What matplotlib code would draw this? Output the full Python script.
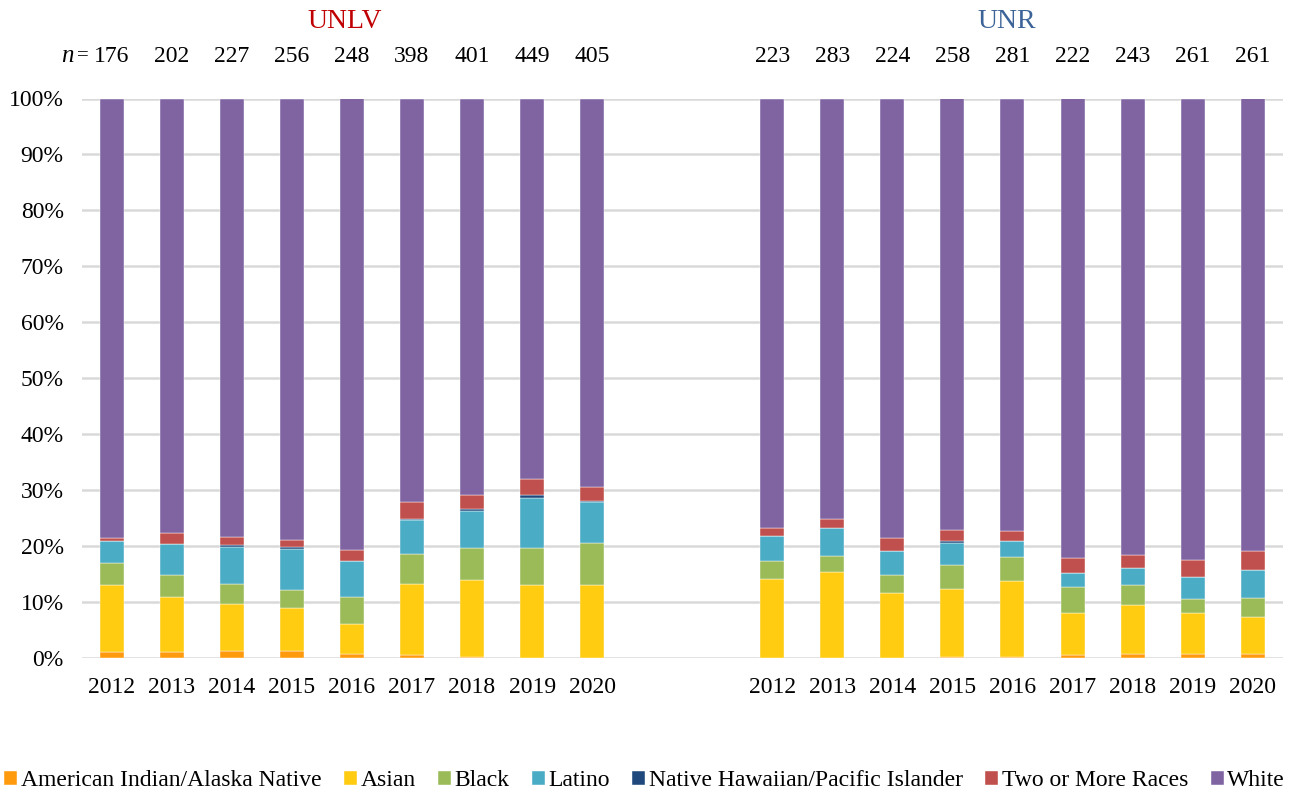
import matplotlib
matplotlib.use("Agg")
import matplotlib.pyplot as plt
import numpy as np

years = ["2012", "2013", "2014", "2015", "2016", "2017", "2018", "2019", "2020"]
groups = ["UNLV", "UNR"]
n_unlv = [176, 202, 227, 256, 248, 398, 401, 449, 405]
n_unr = [223, 283, 224, 258, 281, 222, 243, 261, 261]

categories = ["American Indian/Alaska Native", "Asian", "Black", "Latino",
              "Native Hawaiian/Pacific Islander", "Two or More Races", "White"]

# percentages (White = remainder to 100)
unlv_aian = [1.1, 1.0, 1.3, 1.2, 0.8, 0.5, 0.25, 0.0, 0.0]
unlv_asian = [11.9, 9.9, 8.4, 7.8, 5.2, 12.8, 13.7, 13.0, 13.1]
unlv_black = [4.0, 4.0, 3.5, 3.1, 4.9, 5.3, 5.7, 6.7, 7.4]
unlv_latino = [3.9, 5.4, 6.6, 7.4, 6.4, 6.0, 6.7, 8.9, 7.4]
unlv_nhpi = [0.0, 0.0, 0.46, 0.4, 0.0, 0.3, 0.3, 0.5, 0.25]
unlv_two = [0.6, 2.0, 1.3, 1.2, 2.0, 3.0, 2.5, 2.9, 2.45]

unr_aian = [0.0, 0.0, 0.0, 0.15, 0.15, 0.45, 0.8, 0.8, 0.8]
unr_asian = [14.2, 15.4, 11.55, 12.2, 13.6, 7.6, 8.6, 7.2, 6.45]
unr_black = [3.2, 2.9, 3.2, 4.3, 4.3, 4.6, 3.6, 2.6, 3.4]
unr_latino = [4.4, 5.0, 4.35, 3.9, 2.85, 2.55, 3.0, 3.8, 5.0]
unr_nhpi = [0.0, 0.0, 0.0, 0.4, 0.0, 0.0, 0.0, 0.0, 0.0]
unr_two = [1.4, 1.6, 2.3, 1.85, 1.8, 2.75, 2.4, 3.15, 3.45]

colors = ["#FF9A0E", "#FFCC11", "#9BBB59", "#4BACC6", "#1F497D", "#C0504D", "#8064A2"]

unlv = [unlv_aian, unlv_asian, unlv_black, unlv_latino, unlv_nhpi, unlv_two]
unr = [unr_aian, unr_asian, unr_black, unr_latino, unr_nhpi, unr_two]
unlv.append(list(100 - np.sum(unlv, axis=0)))
unr.append(list(100 - np.sum(unr, axis=0)))

plt.rcParams['font.family'] = ['Liberation Serif', 'DejaVu Serif']

fig = plt.figure(figsize=(12.89, 7.93), dpi=100)
ax = fig.add_axes([81.7 / 1289, 135 / 793, 1201 / 1289, (658 - 98.5) / 793])

x_unlv = np.arange(9)
x_unr = np.arange(9) + 11
width = 0.4

for xs, data, lab in ((x_unlv, unlv, True), (x_unr, unr, False)):
    bottom = np.zeros(9)
    for i, vals in enumerate(data):
        vals = np.array(vals, dtype=float)
        ax.bar(xs, vals, width, bottom=bottom, color=colors[i],
               label=categories[i] if lab else None,
               edgecolor="white", linewidth=0.3, zorder=3)
        bottom += vals

ax.set_xlim(-0.5, 19.5)
ax.set_ylim(0, 100)
ax.set_yticks(np.arange(0, 101, 10))
ax.set_yticklabels([f"{v}%" for v in range(0, 101, 10)])
ax.set_xticks(list(x_unlv) + list(x_unr))
ax.set_xticklabels(years + years)
ax.tick_params(axis="both", length=0, labelsize=17)
ax.tick_params(axis="y", pad=13)
ax.tick_params(axis="x", pad=14)
ax.yaxis.grid(True, color="#D9D9D9", linewidth=1.8, zorder=0)
for s in ax.spines.values():
    s.set_visible(False)

# n labels
ny = (658 - 56) / (658 - 98.5) * 100
for xi, n in zip(list(x_unlv) + list(x_unr), n_unlv + n_unr):
    ax.text(xi, ny, str(n), ha="center", va="center", fontsize=17, clip_on=False)
ax.text(x_unlv[0] - 0.38, ny, "=", ha="right", va="center", fontsize=15, clip_on=False)
ax.text(x_unlv[0] - 0.64, ny, "n", ha="right", va="center", fontsize=18,
        style="italic", clip_on=False)

ty = (658 - 22) / (658 - 98.5) * 100
ax.text(3.88, ty, groups[0], ha="center", va="center", fontsize=20,
        color="#C00000", clip_on=False)
ax.text(14.9, ty, groups[1], ha="center", va="center", fontsize=20,
        color="#3C6499", clip_on=False)

fig.legend(loc="center", bbox_to_anchor=(0.5, 1 - 781 / 793), ncol=7,
           frameon=False, fontsize=17, handlelength=0.55, handleheight=0.55,
           handletextpad=0.15, columnspacing=0.95, borderaxespad=0)

fig.savefig("out.png", dpi=100)
